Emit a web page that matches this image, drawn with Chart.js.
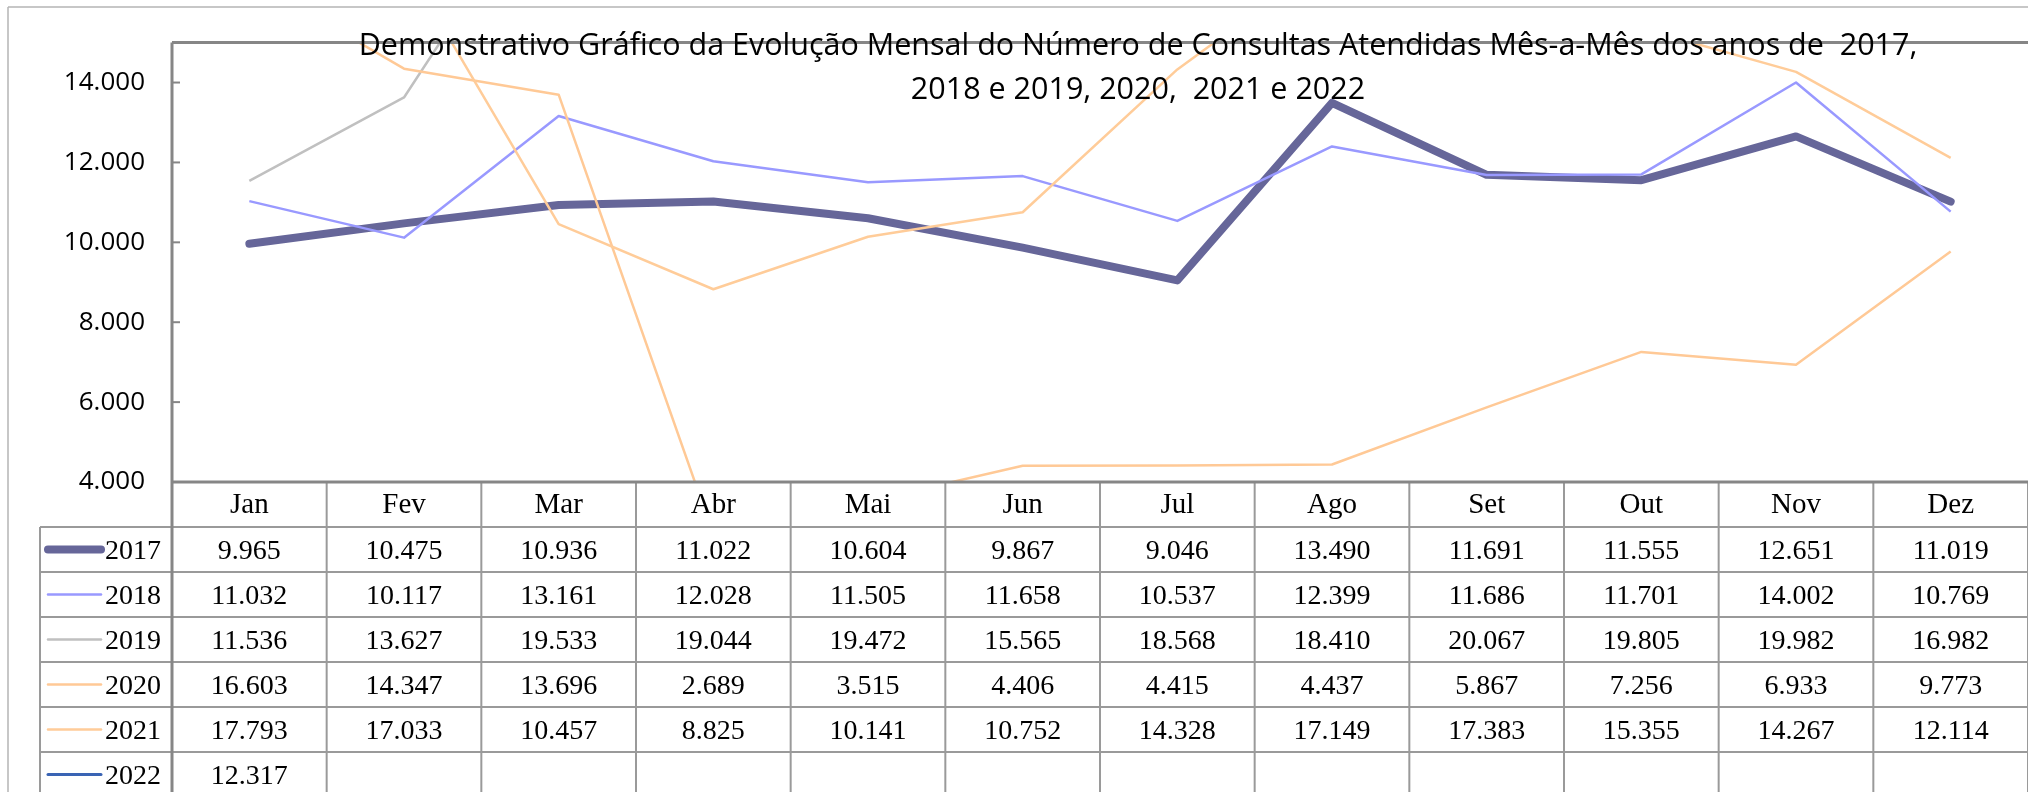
<!DOCTYPE html>
<html lang="pt-BR">
<head>
<meta charset="utf-8">
<title>Consultas Atendidas Mês-a-Mês</title>
<script src="https://cdn.jsdelivr.net/npm/chart.js@4.4.1/dist/chart.umd.min.js"></script>
<style>
  html, body { margin: 0; padding: 0; background: #fff; }
  canvas { display: block; }
</style>
</head>
<body>
<canvas id="consultas-chart" width="2028" height="792"></canvas>
<script>
// Categorias (meses)
const meses = ["Jan", "Fev", "Mar", "Abr", "Mai", "Jun", "Jul", "Ago", "Set", "Out", "Nov", "Dez"];

// Anos (séries)
const anos = ["2017", "2018", "2019", "2020", "2021", "2022"];

// Consultas atendidas por mês
const consultas2017 = [9965, 10475, 10936, 11022, 10604, 9867, 9046, 13490, 11691, 11555, 12651, 11019];
const consultas2018 = [11032, 10117, 13161, 12028, 11505, 11658, 10537, 12399, 11686, 11701, 14002, 10769];
const consultas2019 = [11536, 13627, 19533, 19044, 19472, 15565, 18568, 18410, 20067, 19805, 19982, 16982];
const consultas2020 = [16603, 14347, 13696, 2689, 3515, 4406, 4415, 4437, 5867, 7256, 6933, 9773];
const consultas2021 = [17793, 17033, 10457, 8825, 10141, 10752, 14328, 17149, 17383, 15355, 14267, 12114];
const consultas2022 = [12317, null, null, null, null, null, null, null, null, null, null, null];

// Marcas do eixo Y
const yTicks = [4000, 6000, 8000, 10000, 12000, 14000];

// Título em duas linhas
const tituloLinhas = [
    "Demonstrativo Gráfico da Evolução Mensal do Número de Consultas Atendidas Mês-a-Mês dos anos de  2017,",
    "2018 e 2019, 2020,  2021 e 2022"
];

const serieValores = [consultas2017, consultas2018, consultas2019, consultas2020, consultas2021, consultas2022];
const serieCores = ["#666699", "#9999FF", "#C0C0C0", "#FFC996", "#FFCC99", "#3A64B4"];
const serieLarguras = [8, 2.5, 2.5, 2.5, 2.5, 3];

const SANS = "'Open Sans', 'DejaVu Sans', sans-serif";
const SERIF = "'Liberation Serif', 'DejaVu Serif', serif";

// Formata número no padrão brasileiro (12.345)
function formatarNumero(v) {
    return String(v).replace(/\B(?=(\d{3})+(?!\d))/g, ".");
}

function linha(ctx, x1, y1, x2, y2) {
    ctx.beginPath();
    ctx.moveTo(x1, y1);
    ctx.lineTo(x2, y2);
    ctx.stroke();
}

// Moldura, tabela de dados e título
const tabelaPlugin = {
    id: "tabelaDados",
    afterDraw(chart) {
        const ctx = chart.ctx;
        const area = chart.chartArea;
        const xScale = chart.scales.x;
        const yScale = chart.scales.y;
        const colW = xScale.getPixelForValue(1) - xScale.getPixelForValue(0);
        const rowH = 45;
        const legLeft = 40;
        const top = area.bottom;

        ctx.save();

        // Moldura externa
        ctx.strokeStyle = "#B4B4B4";
        ctx.lineWidth = 1.5;
        linha(ctx, 8, 7, chart.width, 7);
        linha(ctx, 8, 7, 8, chart.height);

        // Marcas do eixo Y (para dentro)
        ctx.strokeStyle = "#868686";
        ctx.lineWidth = 2;
        yTicks.forEach(v => {
            const y = yScale.getPixelForValue(v);
            linha(ctx, area.left, y, area.left + 8, y);
        });

        // Grade da tabela
        ctx.strokeStyle = "#9A9A9A";
        ctx.lineWidth = 2;
        for (let r = 1; r <= anos.length + 1; r++) {
            const y = top + r * rowH;
            linha(ctx, legLeft, y, chart.width, y);
        }
        linha(ctx, legLeft, top + rowH, legLeft, chart.height);
        for (let c = 1; c <= meses.length; c++) {
            const xc = area.left + c * colW;
            linha(ctx, xc, top, xc, chart.height);
        }

        // Borda da área do gráfico
        ctx.strokeStyle = "#868686";
        ctx.lineWidth = 3;
        linha(ctx, area.left, area.top, chart.width, area.top);
        linha(ctx, area.left, area.top, area.left, chart.height);
        linha(ctx, area.left, area.bottom, chart.width, area.bottom);

        // Cabeçalho (meses)
        ctx.fillStyle = "#000";
        ctx.font = "29px " + SERIF;
        ctx.textAlign = "center";
        ctx.textBaseline = "middle";
        meses.forEach((m, i) => {
            ctx.fillText(m, xScale.getPixelForValue(i), top + rowH / 2 + 1);
        });

        // Linhas de valores com legenda
        ctx.font = "28px " + SERIF;
        chart.data.datasets.forEach((ds, r) => {
            const yc = top + (r + 1) * rowH + rowH / 2 + 2;
            ctx.strokeStyle = ds.borderColor;
            ctx.lineWidth = ds.borderWidth;
            ctx.lineCap = "round";
            linha(ctx, legLeft + 8, yc - 2, legLeft + 61, yc - 2);
            ctx.textAlign = "left";
            ctx.fillText(ds.label, legLeft + 65, yc);
            ctx.textAlign = "center";
            ds.data.forEach((v, i) => {
                if (v === null) return;
                ctx.fillText(formatarNumero(v), xScale.getPixelForValue(i), yc);
            });
        });

        // Título
        ctx.font = "30.5px " + SANS;
        ctx.textAlign = "center";
        ctx.textBaseline = "alphabetic";
        ctx.fillText(tituloLinhas[0], 1138, 55);
        ctx.fillText(tituloLinhas[1], 1138, 99);

        ctx.restore();
    }
};

const datasets = anos.map((ano, i) => ({
    label: ano,
    data: serieValores[i],
    borderColor: serieCores[i],
    backgroundColor: serieCores[i],
    borderWidth: serieLarguras[i],
    // a série de 2022 tem um só ponto: sem ponta arredondada não aparece marca
    borderCapStyle: i === 0 ? "round" : "butt",
    borderJoinStyle: "round",
    pointRadius: 0,
    fill: false,
    clip: 0,
    order: anos.length - i
}));

new Chart(document.getElementById("consultas-chart"), {
    type: "line",
    data: { labels: meses, datasets: datasets },
    options: {
        responsive: false,
        animation: false,
        layout: { padding: { left: 0, top: 25, right: -12, bottom: 310 } },
        plugins: {
            legend: { display: false },
            title: { display: false },
            tooltip: { enabled: false }
        },
        scales: {
            x: { display: false, offset: true },
            y: {
                min: 4000,
                max: 15000,
                afterBuildTicks: scale => {
                    scale.ticks = yTicks.map(v => ({ value: v }));
                },
                afterFit: scale => {
                    scale.width = 172;
                },
                grid: { display: false, drawTicks: false },
                border: { display: false },
                ticks: {
                    padding: 27,
                    color: "#000",
                    font: { family: SANS, size: 26 },
                    callback: v => formatarNumero(v)
                }
            }
        }
    },
    plugins: [tabelaPlugin]
});
</script>
</body>
</html>
